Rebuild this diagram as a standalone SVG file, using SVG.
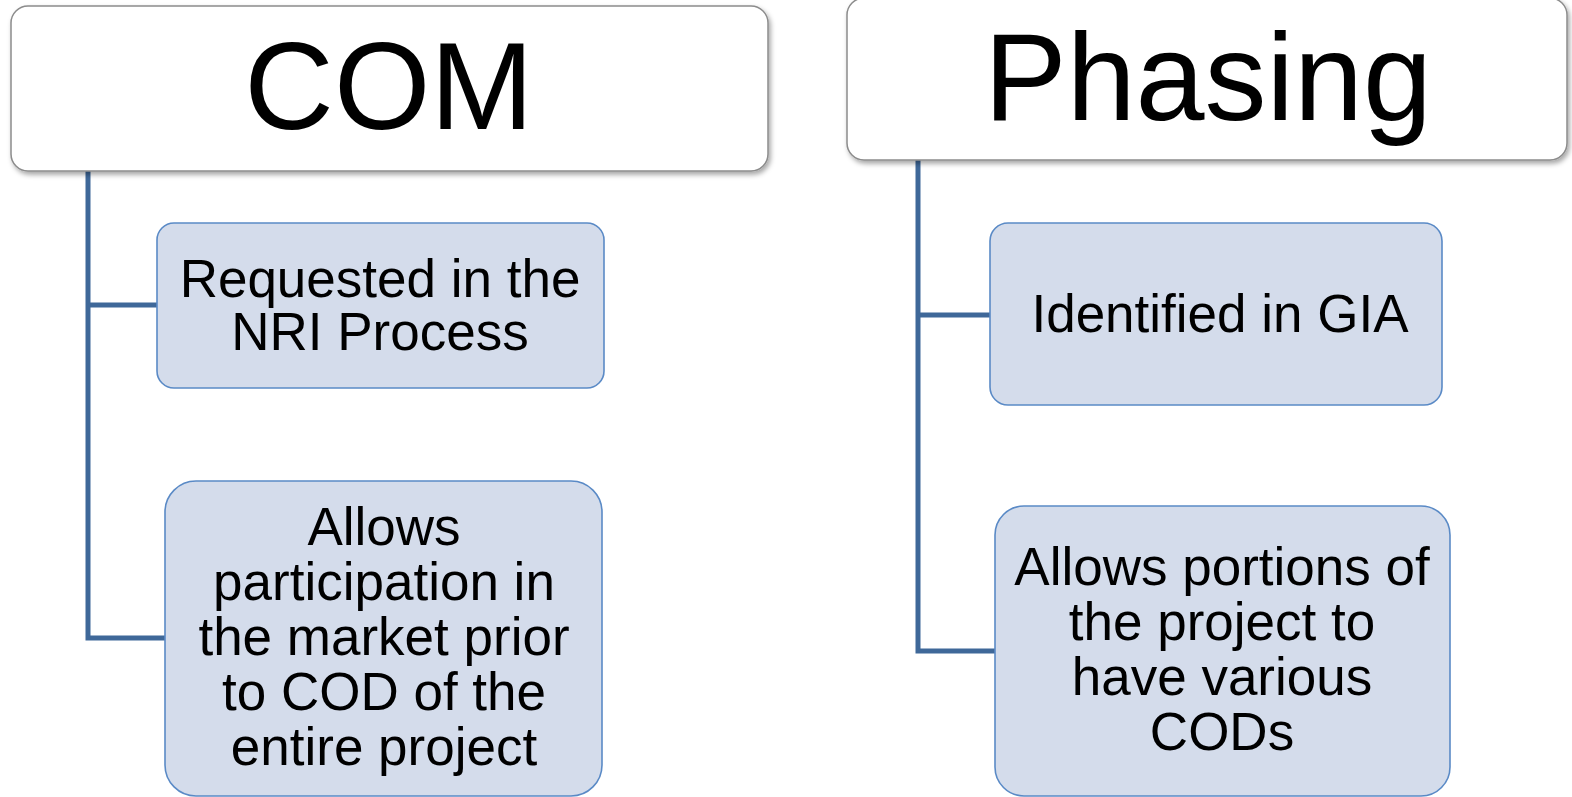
<svg xmlns="http://www.w3.org/2000/svg" width="1572" height="797" viewBox="0 0 1572 797">
<defs>
<filter id="sh" x="-5%" y="-10%" width="115%" height="130%">
<feDropShadow dx="2" dy="3" stdDeviation="2.5" flood-color="#000" flood-opacity="0.35"/>
</filter>
<style>
.top{fill:#ffffff;stroke:#8c8c8c;stroke-width:1.5;filter:url(#sh)}
.child{fill:#D4DCEB;stroke:#5A8AC6;stroke-width:1.6}
.conn{fill:none;stroke:#3F6899;stroke-width:5}
.tt{font-family:"Liberation Sans",Arial,sans-serif;font-size:124px;fill:#000;text-anchor:middle}
.ct{font-family:"Liberation Sans",Arial,sans-serif;font-size:53px;fill:#000;text-anchor:middle}
</style>
</defs>
<rect width="1572" height="797" fill="#ffffff"/>
<g id="connectors">
<path class="conn" d="M88 170 V638 H166 M88 305 H158"/>
<path class="conn" d="M918 159 V651 H996 M918 315 H991"/>
</g>
<g id="com">
<rect class="top" x="11" y="6" width="757" height="165" rx="17"/>
<text class="tt" x="389" y="129">COM</text>
</g>
<g id="phasing">
<rect class="top" x="847" y="-2" width="720" height="162" rx="17"/>
<text class="tt" x="1208" y="120">Phasing</text>
</g>
<g id="requested">
<rect class="child" x="157" y="223" width="447" height="165" rx="17"/>
<text class="ct" x="380" y="297">Requested in the</text>
<text class="ct" x="380" y="350">NRI Process</text>
</g>
<g id="allows-participation">
<rect class="child" x="165" y="481" width="437" height="315" rx="31"/>
<text class="ct" x="384" y="545">Allows</text>
<text class="ct" x="384" y="600">participation in</text>
<text class="ct" x="384" y="655">the market prior</text>
<text class="ct" x="384" y="710">to COD of the</text>
<text class="ct" x="384" y="765">entire project</text>
</g>
<g id="identified">
<rect class="child" x="990" y="223" width="452" height="182" rx="18"/>
<text class="ct" x="1220" y="332">Identified in GIA</text>
</g>
<g id="allows-portions">
<rect class="child" x="995" y="506" width="455" height="290" rx="29"/>
<text class="ct" x="1222" y="585">Allows portions of</text>
<text class="ct" x="1222" y="640">the project to</text>
<text class="ct" x="1222" y="695">have various</text>
<text class="ct" x="1222" y="750">CODs</text>
</g>
</svg>
